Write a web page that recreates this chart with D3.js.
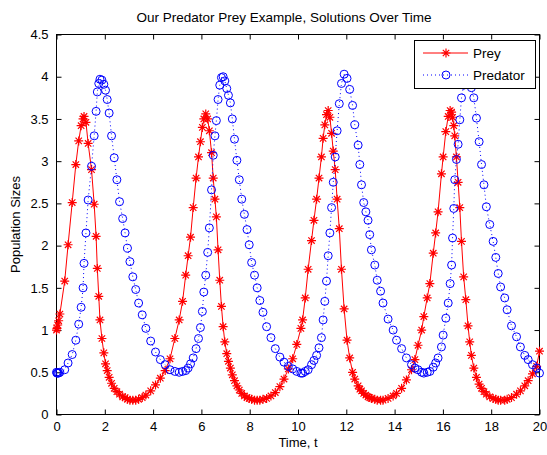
<!DOCTYPE html>
<html><head><meta charset="utf-8">
<script src="https://cdn.jsdelivr.net/npm/d3@7"></script>
<style>
body{margin:0;background:#fff}
svg{display:block}
text{font-family:"Liberation Sans",Arial,Helvetica,sans-serif;fill:#000}
</style></head>
<body><div id="chart"></div>
<script>
// ---- data ----
const time = [
0,0.02,0.05,0.09,0.14,0.34,0.48,0.65,0.80,0.92,1.02,1.10,1.14,1.22,1.31,1.45,1.56,1.64,1.69,1.75,1.80,1.88,1.96,2.03,2.10,2.18,2.28,2.39,2.50,2.61,2.74,2.84,2.94,3.04,3.16,3.28,3.40,3.55,3.70,3.90,4.10,4.30,4.50,4.70,4.90,
5.08,5.22,5.35,5.45,5.55,5.66,5.78,5.88,5.96,6.04,6.10,6.18,6.26,6.33,6.42,6.49,6.56,6.62,6.69,6.76,6.83,6.90,6.97,7.05,7.12,7.20,7.28,7.37,7.47,7.57,7.67,7.78,7.89,7.98,8.08,8.20,8.31,8.42,8.55,8.70,8.88,9.06,9.25,9.42,9.60,9.78,9.95,
10.12,10.19,10.30,10.42,10.56,10.66,10.77,10.87,10.97,11.04,11.11,11.18,11.25,11.32,11.39,11.46,11.54,11.62,11.71,11.80,11.91,12.03,12.14,12.26,12.35,12.49,12.56,12.63,12.72,12.81,12.90,12.97,13.04,13.18,13.28,13.42,13.52,13.73,13.94,14.08,14.29,14.49,14.70,14.84,14.97,
15.12,15.21,15.35,15.46,15.60,15.70,15.80,15.94,16.01,16.12,16.22,16.30,16.36,16.40,16.45,16.49,16.56,16.63,16.70,16.77,16.86,16.95,17.04,17.11,17.18,17.28,17.39,17.50,17.60,17.70,17.80,17.94,18.08,18.19,18.29,18.39,18.56,18.66,18.84,19.05,19.21,19.39,19.53,19.71,19.88,20.00
];
const prey = [
1.00,1.02,1.06,1.11,1.19,1.58,2.01,2.51,2.96,3.24,3.42,3.50,3.53,3.46,3.21,2.90,2.49,2.11,1.73,1.40,1.12,0.90,0.73,0.60,0.52,0.44,0.37,0.31,0.27,0.24,0.21,0.20,0.18,0.17,0.17,0.17,0.18,0.20,0.23,0.28,0.35,0.43,0.52,0.66,0.90,
1.12,1.34,1.65,1.88,2.10,2.45,2.80,3.05,3.23,3.40,3.50,3.56,3.50,3.36,3.10,2.80,2.55,2.34,1.95,1.59,1.28,1.04,0.86,0.72,0.63,0.55,0.47,0.40,0.34,0.29,0.25,0.22,0.20,0.19,0.18,0.17,0.17,0.17,0.18,0.19,0.22,0.26,0.33,0.42,0.54,0.66,0.83,
1.02,1.12,1.38,1.72,2.06,2.30,2.55,2.80,3.05,3.27,3.43,3.55,3.60,3.52,3.33,3.12,2.90,2.55,2.20,1.72,1.25,0.88,0.67,0.50,0.42,0.34,0.30,0.28,0.25,0.23,0.21,0.20,0.19,0.18,0.17,0.17,0.17,0.19,0.22,0.25,0.31,0.41,0.53,0.65,0.82,
1.00,1.16,1.38,1.55,1.91,2.15,2.40,2.85,3.05,3.35,3.53,3.60,3.58,3.52,3.42,3.30,3.05,2.75,2.45,2.05,1.63,1.36,1.05,0.86,0.70,0.55,0.44,0.36,0.31,0.27,0.24,0.21,0.19,0.18,0.17,0.17,0.17,0.18,0.20,0.24,0.28,0.34,0.40,0.48,0.57,0.75
];
const predator = [
0.50,0.49,0.49,0.49,0.50,0.53,0.61,0.71,0.88,1.07,1.27,1.50,1.79,2.15,2.54,2.94,3.30,3.59,3.82,3.92,3.97,3.96,3.91,3.84,3.73,3.57,3.30,3.04,2.78,2.52,2.32,2.15,1.97,1.81,1.63,1.48,1.32,1.18,1.02,0.87,0.74,0.65,0.59,0.53,0.51,
0.50,0.51,0.52,0.55,0.60,0.67,0.78,0.90,1.03,1.22,1.45,1.65,1.92,2.21,2.66,3.07,3.30,3.48,3.73,3.90,3.99,4.00,3.95,3.86,3.78,3.69,3.50,3.26,3.01,2.78,2.55,2.37,2.19,2.01,1.80,1.65,1.50,1.35,1.21,1.04,0.91,0.78,0.68,0.62,0.57,0.54,0.51,
0.49,0.49,0.51,0.53,0.59,0.64,0.70,0.79,0.91,1.12,1.34,1.58,1.88,2.15,2.45,2.75,3.05,3.36,3.68,3.92,4.03,3.98,3.85,3.66,3.43,3.19,2.96,2.72,2.51,2.40,2.30,2.13,1.95,1.77,1.59,1.46,1.32,1.13,1.00,0.88,0.78,0.67,0.59,0.55,0.53,
0.50,0.49,0.50,0.51,0.56,0.61,0.67,0.80,0.94,1.14,1.32,1.55,1.77,2.09,2.44,2.78,3.02,3.20,3.49,3.75,3.90,3.98,3.97,3.93,3.87,3.75,3.51,3.23,2.96,2.72,2.46,2.25,2.05,1.86,1.67,1.51,1.38,1.24,1.05,0.92,0.80,0.70,0.65,0.59,0.55,0.49
];
const xTicks = [0,2,4,6,8,10,12,14,16,18,20];
const yTicks = [0,0.5,1,1.5,2,2.5,3,3.5,4,4.5];
const seriesNames = ["Prey","Predator"];
const titleText = "Our Predator Prey Example, Solutions Over Time";
const xLabel = "Time, t";
const yLabel = "Population Sizes";

// ---- drawing ----
const W = 547, H = 455;
const L = 56.5, R = 539.5, T = 34.5, B = 414.5;
const svg = d3.select("#chart").append("svg").attr("width", W).attr("height", H);
svg.append("rect").attr("width", W).attr("height", H).attr("fill", "#fff");

const x = d3.scaleLinear().domain([0, 20]).range([L, R]);
const y = d3.scaleLinear().domain([0, 4.5]).range([B, T]);

const rows = time.map((t, i) => ({t, prey: prey[i], pred: predator[i]}));

const fmt = d => String(d);
function styleAxis(g) {
  g.select(".domain").remove();
  g.selectAll(".tick line").attr("stroke", "#000");
  g.selectAll(".tick text").attr("font-size", 13).attr("fill", "#000")
    .attr("font-family", '"Liberation Sans",Arial,sans-serif');
}
svg.append("g").attr("transform", `translate(0,${B})`)
  .call(d3.axisBottom(x).tickValues(xTicks).tickSize(-5).tickPadding(7).tickFormat(fmt)).call(styleAxis);
svg.append("g").attr("transform", `translate(0,${T})`)
  .call(d3.axisTop(x).tickValues(xTicks).tickSize(-5).tickFormat("")).call(styleAxis);
svg.append("g").attr("transform", `translate(${L},0)`)
  .call(d3.axisLeft(y).tickValues(yTicks).tickSize(-5).tickPadding(8).tickFormat(fmt)).call(styleAxis);
svg.append("g").attr("transform", `translate(${R},0)`)
  .call(d3.axisRight(y).tickValues(yTicks).tickSize(-5).tickFormat("")).call(styleAxis);

svg.append("rect").attr("x", L).attr("y", T).attr("width", R - L).attr("height", B - T)
  .attr("fill", "none").attr("stroke", "#000").attr("stroke-width", 1);

// prey: red solid line with asterisks
const starPath = "M-4.5,0H4.5M0,-4.5V4.5M-3.2,-3.2L3.2,3.2M-3.2,3.2L3.2,-3.2";
svg.append("path").datum(rows)
  .attr("d", d3.line().x(d => x(d.t)).y(d => y(d.prey)))
  .attr("fill", "none").attr("stroke", "#ff0000").attr("stroke-width", 1);
svg.append("g").selectAll("path").data(rows).join("path")
  .attr("transform", d => `translate(${x(d.t)},${y(d.prey)})`)
  .attr("d", starPath).attr("stroke", "#ff0000").attr("stroke-width", 1.2).attr("fill", "none");

// predator: blue dotted line with circles
svg.append("path").datum(rows)
  .attr("d", d3.line().x(d => x(d.t)).y(d => y(d.pred)))
  .attr("fill", "none").attr("stroke", "#0000ff").attr("stroke-width", 1)
  .attr("stroke-dasharray", "1,3");
svg.append("g").selectAll("circle").data(rows).join("circle")
  .attr("cx", d => x(d.t)).attr("cy", d => y(d.pred)).attr("r", 4)
  .attr("fill", "none").attr("stroke", "#0000ff").attr("stroke-width", 1);

// title and labels
svg.append("text").attr("x", 284).attr("y", 22).attr("text-anchor", "middle")
  .attr("font-size", 13.5).text(titleText);
svg.append("text").attr("x", (L + R) / 2).attr("y", 447).attr("text-anchor", "middle")
  .attr("font-size", 13).text(xLabel);
svg.append("text").attr("transform", `translate(20,${(T + B) / 2}) rotate(-90)`)
  .attr("text-anchor", "middle").attr("font-size", 13).text(yLabel);

// legend
const lg = svg.append("g");
lg.append("rect").attr("x", 414.5).attr("y", 40.5).attr("width", 121).attr("height", 48)
  .attr("fill", "#fff").attr("stroke", "#000");
const entries = [
  {name: seriesNames[0], y: 53, color: "#ff0000", dash: null, marker: "star"},
  {name: seriesNames[1], y: 75, color: "#0000ff", dash: "1,3", marker: "circle"}
];
entries.forEach(e => {
  lg.append("line").attr("x1", 423).attr("x2", 468).attr("y1", e.y).attr("y2", e.y)
    .attr("stroke", e.color).attr("stroke-dasharray", e.dash);
  if (e.marker === "star") {
    lg.append("path").attr("transform", `translate(446,${e.y})`).attr("d", starPath)
      .attr("stroke", e.color).attr("stroke-width", 1.2).attr("fill", "none");
  } else {
    lg.append("circle").attr("cx", 446).attr("cy", e.y).attr("r", 4)
      .attr("stroke", e.color).attr("fill", "none");
  }
  lg.append("text").attr("x", 473).attr("y", e.y + 5).attr("font-size", 13.5).text(e.name);
});
</script>
</body></html>
